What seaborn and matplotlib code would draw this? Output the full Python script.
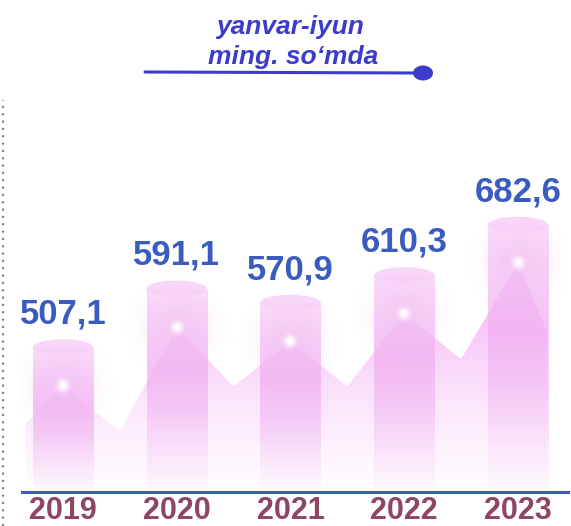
import numpy as np
import matplotlib
matplotlib.use("Agg")
import matplotlib.pyplot as plt
import pandas as pd
import seaborn as sns
from matplotlib.colors import LinearSegmentedColormap, to_rgb
from matplotlib.patches import Ellipse, Polygon
from matplotlib.lines import Line2D

# Data
years = ["2019", "2020", "2021", "2022", "2023"]
values = [507.1, 591.1, 570.9, 610.3, 682.6]
value_labels = ["507,1", "591,1", "570,9", "610,3", "682,6"]
title_lines = ["yanvar-iyun", "ming. so\u2018mda"]

BLUE = "#3a5bbf"
TITLE_BLUE = "#3c3ccc"
YEAR_COLOR = "#8e4566"

sns.set_theme(style="white")
plt.rcParams["font.family"] = ["Liberation Sans", "DejaVu Sans"]

W, H = 571, 526
fig = plt.figure(figsize=(W / 100, H / 100), dpi=100)
ax_left, ax_w = 22 / W, 546 / W
ax = fig.add_axes([ax_left, 34 / H, ax_w, 292 / H])

df = pd.DataFrame({"year": years, "value": values})
sns.barplot(data=df, x="year", y="value", width=0.53, color="#f4b8f4",
            ax=ax, zorder=3)

Y0, Y1 = 300, 718
X0, X1 = -0.36, 4.44
ax.set_ylim(Y0, Y1)
ax.set_xlim(X0, X1)
px_per_unit = 292 / (Y1 - Y0)
px_per_cat = 546 / (X1 - X0)

# Background spiky area derived from the values
xs, ys = [], []
xs.append(-0.33); ys.append(values[0] - 110)
for i, v in enumerate(values):
    xs.append(i); ys.append(v - 55)
    if i < len(values) - 1:
        xs.append(i + 0.5)
        ys.append(min(v, values[i + 1]) - 120)
xs.append(4.25); ys.append(values[-1] - 150)
poly_pts = [(xs[0], Y0)] + list(zip(xs, ys)) + [(xs[-1], Y0)]
area = Polygon(poly_pts, closed=True, facecolor="none", edgecolor="none",
               transform=ax.transData)
ax.add_patch(area)
area_cmap = LinearSegmentedColormap.from_list(
    "area", ["#ffffff", "#fbe2fb", "#f5b8f5", "#f2a2f2"])
grad = np.linspace(0, 1, 256).reshape(-1, 1)
im = ax.imshow(grad, cmap=area_cmap, origin="lower", aspect="auto",
               extent=[-0.4, 4.5, Y0, max(values)], zorder=1, alpha=0.85)
im.set_clip_path(area)

# Radial glow sprite
n = 121
yy, xx = np.mgrid[-1:1:n * 1j, -1:1:n * 1j]
r = np.sqrt(xx ** 2 + yy ** 2)
glow = np.zeros((n, n, 4))
pink = np.array(to_rgb("#f3b4f3"))
white = np.ones(3)
core = np.exp(-(r / 0.14) ** 2)
halo = np.clip(1 - r, 0, 1) ** 1.6
mix = core[..., None]
glow[..., :3] = white * mix + pink * (1 - mix)
glow[..., 3] = np.clip(0.45 * halo + 0.9 * core, 0, 1)
GLOW_R = 55  # px

# Gradient-filled bars clipped to the seaborn bar patches
bar_cmap = LinearSegmentedColormap.from_list(
    "bar", ["#fefafe", "#f9dcf9", "#f4bdf4", "#f2aef2", "#f5c2f5", "#f8d2f8"])
cap_h = 16 / px_per_unit
for i, (patch, v) in enumerate(zip(ax.patches, values)):
    x0 = patch.get_x()
    w = patch.get_width()
    cx = x0 + w / 2
    patch.set_alpha(0)
    bim = ax.imshow(grad, cmap=bar_cmap, origin="lower", aspect="auto",
                    extent=[x0, x0 + w, Y0, v], zorder=2, alpha=0.75)
    bim.set_clip_path(patch)
    cap = Ellipse((cx, v), w, cap_h, facecolor="#f8d4f8",
                  edgecolor="none", alpha=0.9, zorder=2.5)
    ax.add_patch(cap)
    gy = v - 55
    gw = GLOW_R / px_per_cat
    gh = GLOW_R / px_per_unit
    ax.imshow(glow, origin="lower", aspect="auto", zorder=4,
              extent=[cx - gw, cx + gw, gy - gh, gy + gh])
    ax.annotate(value_labels[i], (cx, v), xytext=(0, 12),
                textcoords="offset points", ha="center", va="bottom",
                fontsize=25, fontweight="bold", color=BLUE, zorder=6)

ax.set_xlim(X0, X1)
ax.set_ylim(Y0, Y1)

# Axes styling
for side in ["top", "right", "left"]:
    ax.spines[side].set_visible(False)
ax.spines["bottom"].set_color(BLUE)
ax.spines["bottom"].set_linewidth(2.2)
ax.set_yticks([])
ax.set_xlabel("")
ax.set_ylabel("")
ax.tick_params(axis="x", length=0, pad=3, labelsize=22, labelcolor=YEAR_COLOR)
for t in ax.get_xticklabels():
    t.set_fontweight("bold")
ax.set_facecolor("none")
ax.grid(False)

# Title with underline and dot
fig.text(290 / W, 1 - 27 / H, title_lines[0], ha="center", va="center",
         fontsize=19, fontweight="bold", fontstyle="italic", color=TITLE_BLUE)
fig.text(293 / W, 1 - 57 / H, title_lines[1], ha="center", va="center",
         fontsize=19, fontweight="bold", fontstyle="italic", color=TITLE_BLUE)
fig.add_artist(Line2D([145 / W, 420 / W], [1 - 72 / H, 1 - 73 / H],
                      color=TITLE_BLUE, lw=2.2, transform=fig.transFigure))
fig.add_artist(Ellipse((423 / W, 1 - 73 / H), 20 / W, 15 / H,
                       facecolor=TITLE_BLUE, edgecolor="none",
                       transform=fig.transFigure))

# Dotted guide on the left edge
fig.add_artist(Line2D([3 / W, 3 / W], [0, 1 - 100 / H], color="#888888",
                      lw=1.6, linestyle=(0, (1, 2.3)),
                      transform=fig.transFigure))

fig.savefig("out.png", dpi=100, facecolor="white")
